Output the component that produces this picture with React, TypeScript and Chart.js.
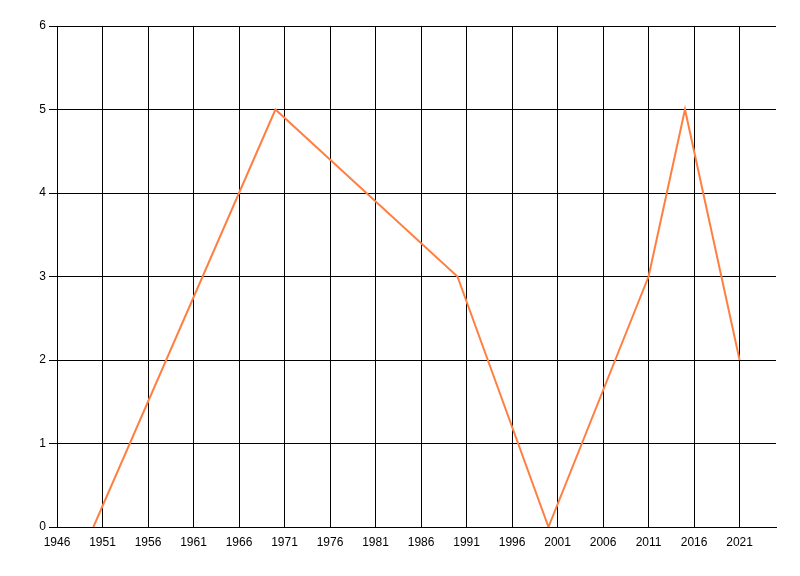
import React, { FC, useEffect, useRef } from "react";
import Chart from "chart.js/auto";

// data
const years = [1950, 1970, 1990, 2000, 2011, 2015, 2021];
const values = [0, 5, 3, 0, 3, 5, 2];
const xTicks = [1946, 1951, 1956, 1961, 1966, 1971, 1976, 1981, 1986, 1991, 1996, 2001, 2006, 2011, 2016, 2021];
const yTicks = [0, 1, 2, 3, 4, 5, 6];

const App: FC = () => {
  const canvasRef = useRef<HTMLCanvasElement>(null);

  useEffect(() => {
    document.body.style.margin = "0";
    if (!canvasRef.current) return;
    const ctx = canvasRef.current.getContext("2d");
    if (!ctx) return;

    const font = { family: "'Liberation Sans Narrow', 'Liberation Sans', Arial, sans-serif", size: 12 };

    const chart = new Chart(ctx, {
      type: "line",
      data: {
        datasets: [
          {
            data: years.map((y, i) => ({ x: y, y: values[i] })),
            borderColor: "rgb(255,127,64)",
            borderWidth: 2,
            pointRadius: 0,
            tension: 0,
            fill: false,
          },
        ],
      },
      options: {
        responsive: false,
        animation: false,
        layout: { padding: { top: 26, right: 24, left: 0, bottom: 0 } },
        plugins: { legend: { display: false }, tooltip: { enabled: false } },
        scales: {
          x: {
            type: "linear",
            min: 1946,
            max: 2025,
            afterBuildTicks: (scale: any) => {
              scale.ticks = xTicks.map((v) => ({ value: v }));
            },
            afterFit: (scale: any) => {
              scale.height = 49;
            },
            grid: { color: "#000", lineWidth: 1, drawTicks: false },
            border: { color: "#000", width: 1 },
            ticks: { color: "#000", font, padding: 8, maxRotation: 0, autoSkip: false, callback: (v: any) => String(v) },
          },
          y: {
            min: 0,
            max: 6,
            afterBuildTicks: (scale: any) => {
              scale.ticks = yTicks.map((v) => ({ value: v }));
            },
            afterFit: (scale: any) => {
              scale.width = 57;
            },
            grid: { color: "#000", lineWidth: 1, tickLength: 8 },
            border: { color: "#000", width: 1 },
            ticks: { color: "#000", font, padding: 3 },
          },
        },
      },
    });

    return () => {
      chart.destroy();
    };
  }, []);

  return (
    <div style={{ width: 800, height: 576, background: "#fff" }}>
      <canvas ref={canvasRef} width={800} height={576}></canvas>
    </div>
  );
};

export default App;
